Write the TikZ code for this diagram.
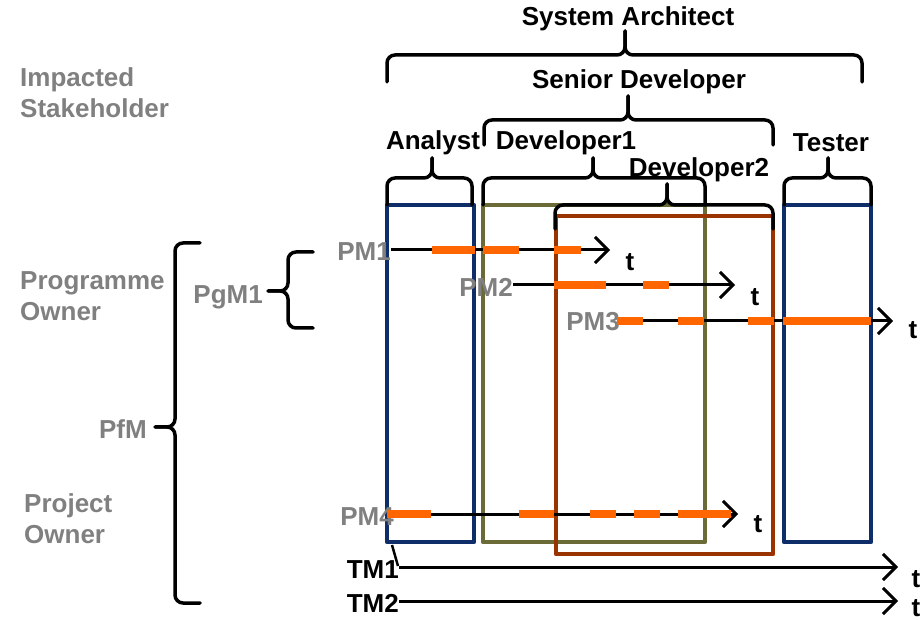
\documentclass[tikz,border=0pt]{standalone}
\usepackage{fontspec}
\setmainfont{Liberation Sans}
\usetikzlibrary{arrows.meta}
\definecolor{navy}{HTML}{0F2D69}
\definecolor{olive}{HTML}{6B6B38}
\definecolor{rust}{HTML}{993300}
\definecolor{dashor}{HTML}{FF6600}
\definecolor{labelgray}{HTML}{808080}

% horizontal brace opening downwards: x1, x2, y of ends, y of bar, x of tip, y of tip
\newcommand\topbrace[6]{%
  \draw[brc] (#1,#3) -- (#1,#4) -- (#5,#4) -- (#5,#6);
  \draw[brc] (#2,#3) -- (#2,#4) -- (#5,#4) -- (#5,#6);}
% vertical brace opening to the right: y1, y2, x of ends, x of bar, y of tip, x of tip
\newcommand\leftbrace[6]{%
  \draw[brc] (#3,#1) -- (#4,#1) -- (#4,#5) -- (#6,#5);
  \draw[brc] (#3,#2) -- (#4,#2) -- (#4,#5) -- (#6,#5);}

\begin{document}
\begin{tikzpicture}[x=1pt,y=-1pt,
  lbl/.style={font=\fontsize{26}{31}\selectfont\bfseries, inner sep=0pt},
  glbl/.style={lbl, text=labelgray, align=left},
  role/.style={line width=4.5pt, line join=round},
  brc/.style={draw, line width=3.5pt, rounded corners=8pt, line cap=round},
  timeline/.style={draw, line width=3pt, -{Straight Barb[length=13pt,width=26pt]}},
  seg/.style={draw=dashor, line width=8pt},
]
\useasboundingbox (0,0) rectangle (922,620);

% stakeholder columns
\draw[role, navy]  (387,205) rectangle (474,542);
\draw[role, olive] (483,205) rectangle (705,542);
\draw[role, rust]  (556,216) rectangle (773,554);
\draw[role, navy]  (784,205) rectangle (871,542);

% role labels and braces
\node[lbl] (sa)  at (628,19)  {System Architect};
\node[lbl] (sd)  at (639,82)  {Senior Developer};
\node[lbl] (an)  at (433,143) {Analyst};
\node[lbl] (d1)  at (566,143) {Developer1};
\node[lbl] (d2)  at (699,170) {Developer2};
\node[lbl] (te)  at (831,143) {Tester};

\topbrace{387}{862}{82}{55}{625}{31}
\topbrace{484}{773}{145}{120}{628}{96}
\topbrace{387}{472}{205}{178}{432}{158}
\topbrace{483}{705}{205}{178}{593}{158}
\topbrace{555}{773}{229}{205}{667}{184}
\topbrace{784}{871}{205}{178}{828}{158}

% owner labels on the left
\node[glbl, anchor=west] (is) at (20,93)  {Impacted\\Stakeholder};
\node[glbl, anchor=west] (po) at (20,296) {Programme\\Owner};
\node[glbl, anchor=west] (pj) at (24,519) {Project\\Owner};
\node[glbl, anchor=east] (pfm)  at (147,429) {PfM};
\node[glbl, anchor=east] (pgm1) at (263,297) {PgM1};

\leftbrace{243}{603}{200}{175}{427}{155}
\leftbrace{252}{328}{313}{288}{291}{268}

% project and team time lines
\node[glbl, anchor=east] (pm1) at (391,252) {PM1};
\node[glbl, anchor=east] (pm2) at (513,287) {PM2};
\node[glbl, anchor=east] (pm3) at (620,322) {PM3};
\node[glbl, anchor=east] (pm4) at (394,517) {PM4};
\node[lbl, anchor=east]  (tm1) at (399,570) {TM1};
\node[lbl, anchor=east]  (tm2) at (399,603) {TM2};

\coordinate (e1) at (610,250);
\coordinate (e2) at (735,285);
\coordinate (e3) at (893,321);
\coordinate (e4) at (738,514);
\coordinate (e5) at (898,567);
\coordinate (e6) at (898,601);

\draw[timeline] (e1 -| pm1.east) -- (e1);
\draw[timeline] (e2 -| pm2.east) -- (e2);
\draw[timeline] (e3 -| pm3.east) -- (e3);
\draw[timeline] (387,514) -- (e4);
\draw[timeline] (e5 -| tm1.east) -- (e5);
\draw[timeline] (e6 -| tm2.east) -- (e6);
\draw[line width=2.5pt] (392,545) -- (398,566);

% active periods
\draw[seg] (432,250) -- (475,250) (483,250) -- (519,250) (554,250) -- (581,250);
\draw[seg] (554,285) -- (606,285) (643,285) -- (669,285);
\draw[seg] (617,321) -- (643,321) (678,321) -- (704,321) (748,321) -- (774,321) (783,321) -- (871,321);
\draw[seg] (387,514) -- (431,514) (519,514) -- (554,514) (590,514) -- (616,514) (634,514) -- (660,514) (678,514) -- (731,514);

% time axis labels
\node[lbl] (t1) at (630,262) {t};
\node[lbl] (t2) at (755,297) {t};
\node[lbl] (t3) at (913,330) {t};
\node[lbl] (t4) at (758,524) {t};
\node[lbl] (t5) at (916,579) {t};
\node[lbl] (t6) at (916,608) {t};
\end{tikzpicture}
\end{document}
